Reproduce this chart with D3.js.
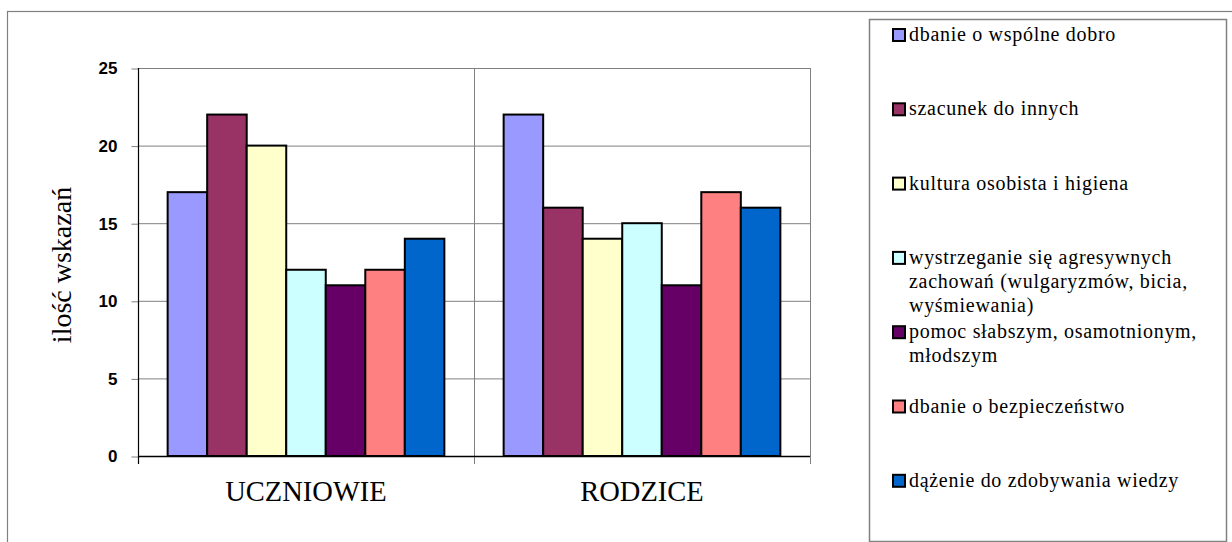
<!DOCTYPE html>
<html>
<head>
<meta charset="utf-8">
<script src="https://cdn.jsdelivr.net/npm/d3@7"></script>
<style>
  body { margin: 0; background: #fff; }
</style>
</head>
<body>
<div id="vis"></div>
<script>
var width = 1232;
var height = 542;

// chart data
var categories = ['UCZNIOWIE', 'RODZICE'];
var seriesNames = [
  'dbanie o wspólne dobro',
  'szacunek do innych',
  'kultura osobista i higiena',
  'wystrzeganie się agresywnych zachowań (wulgaryzmów, bicia, wyśmiewania)',
  'pomoc słabszym, osamotnionym, młodszym',
  'dbanie o bezpieczeństwo',
  'dążenie do zdobywania wiedzy'
];
var uczniowieValues = [17, 22, 20, 12, 11, 12, 14];
var rodziceValues = [22, 16, 14, 15, 11, 17, 16];
var seriesColors = ['#9999FF', '#993366', '#FFFFCC', '#CCFFFF', '#660066', '#FF8080', '#0066CC'];
var yTicks = [0, 5, 10, 15, 20, 25];
var yTitle = 'ilość wskazań';

var valuesByCategory = { 'UCZNIOWIE': uczniowieValues, 'RODZICE': rodziceValues };

var serifFont = 'Liberation Serif';
var sansFont = 'Liberation Sans';

var plot = { left: 138, right: 810, top: 68, bottom: 456 };

var svg = d3.select('#vis').append('svg')
  .attr('width', width)
  .attr('height', height);

var x0 = d3.scaleBand()
  .domain(categories)
  .range([plot.left, plot.right]);

// excel style gap width of 150%
var barW = x0.bandwidth() / 8.5;
var x1 = d3.scaleBand()
  .domain(seriesNames)
  .range([barW * 0.75, x0.bandwidth() - barW * 0.75]);

var y = d3.scaleLinear()
  .domain([0, 25])
  .range([plot.bottom, plot.top]);

// outer chart frame
svg.append('rect')
  .attr('x', 7.5).attr('y', 11.5)
  .attr('width', 1240).attr('height', 540)
  .attr('fill', 'none')
  .attr('stroke', '#808080')
  .attr('stroke-width', 1.2);

// horizontal gridlines
svg.append('g')
  .selectAll('line')
  .data(yTicks.filter(function (d) { return d > 0; }))
  .enter().append('line')
  .attr('x1', plot.left).attr('x2', plot.right)
  .attr('y1', function (d) { return y(d) + 0.5; })
  .attr('y2', function (d) { return y(d) + 0.5; })
  .attr('stroke', '#808080')
  .attr('stroke-width', 1);

// vertical category gridlines
svg.append('g')
  .selectAll('line')
  .data(categories)
  .enter().append('line')
  .attr('x1', function (d) { return x0(d) + x0.bandwidth() + 0.5; })
  .attr('x2', function (d) { return x0(d) + x0.bandwidth() + 0.5; })
  .attr('y1', plot.top)
  .attr('y2', plot.bottom + 8)
  .attr('stroke', '#808080')
  .attr('stroke-width', 1);

// y axis
var yAxis = d3.axisLeft(y)
  .tickValues(yTicks)
  .tickSize(7)
  .tickPadding(14)
  .tickFormat(d3.format('d'));

var yAxisG = svg.append('g')
  .attr('transform', 'translate(' + (plot.left + 0.5) + ',0.5)')
  .call(yAxis)
  .attr('font-family', sansFont)
  .attr('font-size', 17)
  .attr('font-weight', 'bold');
yAxisG.select('.domain').remove();
yAxisG.selectAll('.tick line').attr('stroke', '#808080');
yAxisG.selectAll('.tick text').attr('fill', '#000');

svg.append('line')
  .attr('x1', plot.left + 0.5).attr('x2', plot.left + 0.5)
  .attr('y1', plot.top).attr('y2', plot.bottom + 8)
  .attr('stroke', '#000').attr('stroke-width', 1.2);

// bars
var groups = svg.append('g')
  .selectAll('g')
  .data(categories)
  .enter().append('g')
  .attr('transform', function (d) { return 'translate(' + x0(d) + ',0)'; });

groups.selectAll('rect')
  .data(function (c) {
    return valuesByCategory[c].map(function (v, i) {
      return { name: seriesNames[i], value: v, color: seriesColors[i] };
    });
  })
  .enter().append('rect')
  .attr('x', function (d) { return x1(d.name); })
  .attr('y', function (d) { return y(d.value); })
  .attr('width', x1.bandwidth())
  .attr('height', function (d) { return y(0) - y(d.value); })
  .attr('fill', function (d) { return d.color; })
  .attr('stroke', '#000')
  .attr('stroke-width', 2);

// x axis baseline
svg.append('line')
  .attr('x1', plot.left).attr('x2', plot.right)
  .attr('y1', plot.bottom + 0.5).attr('y2', plot.bottom + 0.5)
  .attr('stroke', '#000').attr('stroke-width', 1.3);

// category labels
svg.append('g')
  .attr('font-family', serifFont)
  .attr('font-size', 28.5)
  .selectAll('text')
  .data(categories)
  .enter().append('text')
  .attr('x', function (d) { return x0(d) + x0.bandwidth() / 2; })
  .attr('y', 501)
  .attr('text-anchor', 'middle')
  .text(function (d) { return d; });

// y title
svg.append('text')
  .attr('transform', 'translate(71,265) rotate(-90)')
  .attr('text-anchor', 'middle')
  .attr('font-family', serifFont)
  .attr('font-size', 28)
  .text(yTitle);

// legend
svg.append('rect')
  .attr('x', 869.5).attr('y', 19.5)
  .attr('width', 357).attr('height', 522)
  .attr('fill', 'none')
  .attr('stroke', '#808080')
  .attr('stroke-width', 1.5);

var legend = svg.append('g')
  .attr('font-family', serifFont)
  .attr('font-size', 20)
  .selectAll('g')
  .data(seriesNames)
  .enter().append('g')
  .attr('transform', function (d, i) { return 'translate(0,' + (41 + i * 74.3) + ')'; });

legend.append('rect')
  .attr('x', 893).attr('y', -12)
  .attr('width', 12).attr('height', 12)
  .attr('fill', function (d, i) { return seriesColors[i]; })
  .attr('stroke', '#000')
  .attr('stroke-width', 2);

legend.each(function (d) {
  var t = d3.select(this).append('text')
    .attr('x', 909)
    .attr('y', 0)
    .attr('letter-spacing', 0.7);
  wrap(t, d, 305, 24);
});

// split long legend labels over several lines
function wrap(textSel, str, maxW, lineH) {
  var words = str.split(' ');
  var line = [];
  var tspan = textSel.append('tspan').attr('x', 909).attr('dy', 0);
  words.forEach(function (w) {
    line.push(w);
    tspan.text(line.join(' '));
    if (tspan.node().getComputedTextLength() > maxW && line.length > 1) {
      line.pop();
      tspan.text(line.join(' '));
      line = [w];
      tspan = textSel.append('tspan').attr('x', 909).attr('dy', lineH).text(w);
    }
  });
}
</script>
</body>
</html>
